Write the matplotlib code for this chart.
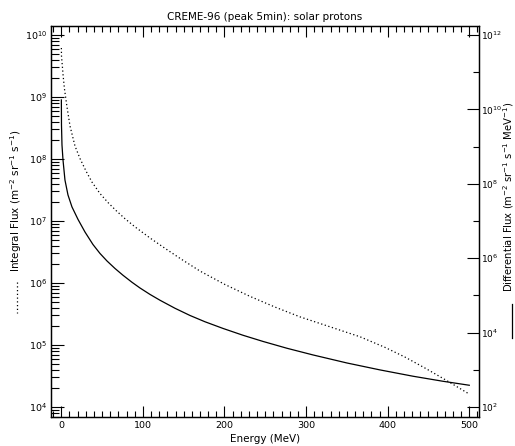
import matplotlib
matplotlib.use("Agg")
import matplotlib.pyplot as plt
import matplotlib.ticker as mticker
from matplotlib.lines import Line2D
import numpy as np

# integral flux (dotted, left axis)
energy_int = [0.1, 0.25, 1.1, 2.3, 3.9, 7.0, 10.7, 16.8, 22.9, 30.3, 37.6, 47.4,
              57.2, 67.0, 78.1, 90.3, 108.7, 127.1, 145.5, 170.0, 200.6, 231.2,
              261.9, 292.5, 329.3, 366.1, 396.7, 421.2, 445.7, 470.2, 500]
integral_flux = [6.17e9, 4.59e9, 3.40e9, 2.18e9, 1.35e9, 6.90e8, 3.40e8, 1.62e8,
                 1.02e8, 6.40e7, 4.25e7, 2.78e7, 1.99e7, 1.48e7, 1.09e7, 8.06e6,
                 5.33e6, 3.63e6, 2.50e6, 1.56e6, 9.47e5, 6.10e5, 4.10e5, 2.85e5,
                 1.97e5, 1.36e5, 9.18e4, 6.40e4, 4.26e4, 2.78e4, 1.62e4]

# differential flux (solid, right axis)
energy_diff = [0.1, 0.25, 0.86, 2.1, 4.5, 8.2, 13.1, 20.5, 29.0, 38.8, 47.4, 56.0,
               65.8, 75.6, 86.6, 96.4, 108.7, 121.0, 139.3, 157.7, 176.1, 198.2,
               222.7, 247.2, 276.6, 308.5, 350.1, 390.6, 431.0, 467.8, 500]
diff_flux = [1.79e10, 3.81e9, 1.10e9, 4.37e8, 1.26e8, 5.0e7, 2.38e7, 1.10e7,
             5.06e6, 2.33e6, 1.34e6, 8.4e5, 5.28e5, 3.47e5, 2.25e5, 1.58e5,
             1.06e5, 7.38e4, 4.50e4, 2.88e4, 1.95e4, 1.29e4, 8.45e3, 5.77e3,
             3.78e3, 2.50e3, 1.52e3, 9.9e2, 6.7e2, 4.9e2, 3.83e2]

title = "CREME-96 (peak 5min): solar protons"

W, H = 515, 446
plt.rcParams['font.family'] = 'DejaVu Sans'
plt.rcParams['font.size'] = 7.5
plt.rcParams['mathtext.fontset'] = 'dejavusans'

fig = plt.figure(figsize=(W / 100, H / 100), dpi=100)
ax = fig.add_axes([51 / W, (H - 417) / H, (479 - 51) / W, (417 - 26) / H])
ax2 = ax.twinx()

ax.plot(energy_int, integral_flux, color='black', lw=0.9, linestyle=(0, (1, 2)))
ax2.plot(energy_diff, diff_flux, color='black', lw=0.9)

ax.set_xlim(-12.6, 511.9)
ax.set_yscale('log')
ax.set_ylim(10 ** 3.84, 10 ** 10.145)
ax2.set_yscale('log')
ax2.set_ylim(10 ** 1.73, 10 ** 12.24)

ax.xaxis.set_major_locator(mticker.MultipleLocator(100))
ax.xaxis.set_minor_locator(mticker.MultipleLocator(10))
ax.yaxis.set_major_locator(mticker.FixedLocator([10.0 ** k for k in range(4, 11)]))
ax.yaxis.set_major_formatter(mticker.LogFormatterSciNotation())
ax.yaxis.set_minor_locator(mticker.LogLocator(base=10, subs=np.arange(2, 10), numticks=20))
ax.yaxis.set_minor_formatter(mticker.NullFormatter())

ax2.yaxis.set_major_locator(mticker.FixedLocator([10.0 ** k for k in range(2, 13, 2)]))
ax2.yaxis.set_minor_locator(mticker.FixedLocator([10.0 ** k for k in range(3, 13, 2)]))
ax2.yaxis.set_major_formatter(mticker.LogFormatterSciNotation())
ax2.yaxis.set_minor_formatter(mticker.NullFormatter())

ax.tick_params(which='both', direction='in', top=True, right=False, width=0.8,
               pad=3, labelsize=6.8)
ax.tick_params(axis='x', which='major', length=8)
ax.tick_params(axis='x', which='minor', length=4)
ax.tick_params(axis='y', which='major', length=9.5)
ax.tick_params(axis='y', which='minor', length=5.5)
ax2.tick_params(which='both', direction='in', width=0.8, pad=1.5, labelsize=6.5)
ax2.tick_params(which='major', length=8.5)
ax2.tick_params(which='minor', length=4.3)

for a in (ax, ax2):
    for s in a.spines.values():
        s.set_linewidth(0.9)

ax.set_xlabel("Energy (MeV)", labelpad=3)
ax.set_title(title, fontsize=7.5, pad=4)

fig.text(16 / W, 1 - 201 / H, "Integral Flux (m$^{-2}$ sr$^{-1}$ s$^{-1}$)",
         rotation=90, ha='center', va='center', fontsize=7.5)
fig.text(509 / W, 1 - 197 / H, "Differential Flux (m$^{-2}$ sr$^{-1}$ s$^{-1}$ MeV$^{-1}$)",
         rotation=90, ha='center', va='center', fontsize=7.2)

# line keys under the axis titles
fig.add_artist(Line2D([17 / W, 17 / W], [1 - 282 / H, 1 - 313 / H], color='black',
                      lw=0.9, linestyle=(0, (1, 2)), transform=fig.transFigure))
fig.add_artist(Line2D([512 / W, 512 / W], [1 - 304 / H, 1 - 338 / H], color='black',
                      lw=0.9, transform=fig.transFigure))

fig.savefig("out.png", dpi=100)
